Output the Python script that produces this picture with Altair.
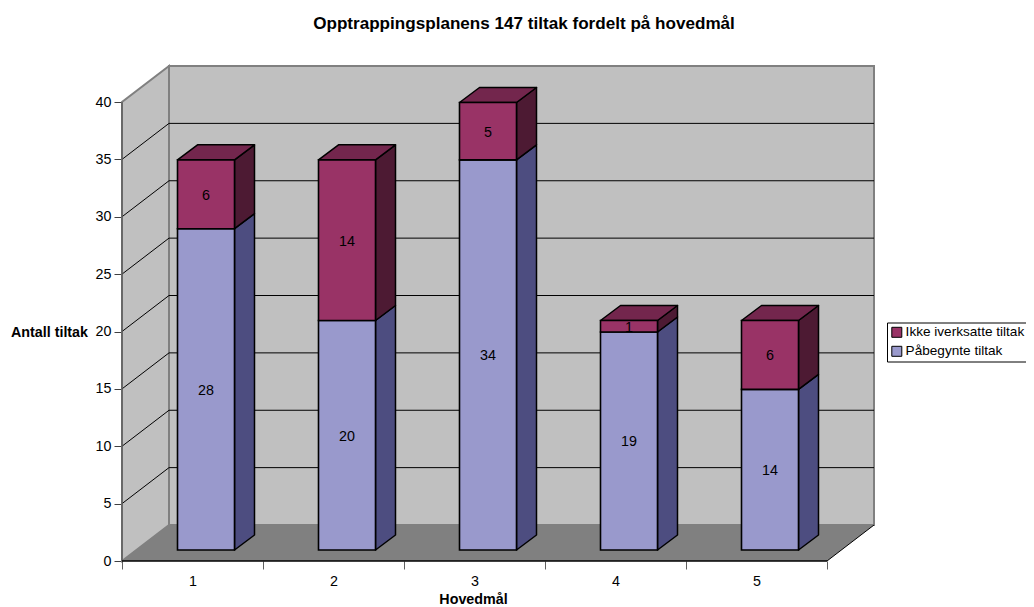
import altair as alt
import pandas as pd

categories = [1, 2, 3, 4, 5]
started = [28, 20, 34, 19, 14]
not_started = [6, 14, 5, 1, 6]
series_names = ["Ikke iverksatte tiltak", "Påbegynte tiltak"]
y_ticks = [0, 5, 10, 15, 20, 25, 30, 35, 40]
x_ticks = [0, 1, 2, 3, 4, 5]

PX = 141.0      # pixels per category
PY = 11.475     # pixels per y unit
W, H = 904, 494
DX, DY = 47 / PX, 36 / PY        # depth of the box
BL, BW = 55.5 / PX, 57 / PX      # bar left inset / bar width
BO = 11 / PY                     # bar front lift
BDX, BDY = 20 / PX, 15 / PY      # bar depth

FONT = "Liberation Sans"
xs = alt.Scale(domain=[0, W / PX], nice=False, zero=False)
ys = alt.Scale(domain=[0, H / PY], nice=False, zero=False)

x_axis = alt.Axis(
    values=x_ticks, domain=False, grid=False, tickColor="#606060", tickSize=8, tickWidth=1,
    labelExpr="datum.value < 5 ? datum.value + 1 : ''", labelOffset=70.5, labelPadding=5,
    labelFlush=False, labelOverlap=False, labelBound=False,
    labelFont=FONT, labelFontSize=14.3, labelColor="#000000", labelAngle=0,
    title="Hovedmål", titleFont=FONT, titleFontSize=14.3, titleFontWeight="bold",
    titleColor="#000000", titleX=351, titleY=38, titleBaseline="middle", titleAlign="center",
)
y_axis = alt.Axis(
    values=y_ticks, domain=False, grid=False, tickColor="#404040", tickSize=8, tickWidth=1,
    labelFont=FONT, labelFontSize=14.3, labelColor="#000000", labelPadding=3,
    labelFlush=False, labelOverlap=False, labelBound=False,
    title="Antall tiltak", titleFont=FONT, titleFontSize=14.3, titleFontWeight="bold",
    titleColor="#000000", titleAngle=0, titleX=-73, titleY=265,
    titleAlign="center", titleBaseline="middle",
)
X = lambda f, **k: alt.X(f, type="quantitative", scale=xs, axis=x_axis, **k)
Y = lambda f, **k: alt.Y(f, type="quantitative", scale=ys, axis=y_axis, **k)

# walls and floor
back = alt.Chart(pd.DataFrame([{"x": DX, "x2": 5 + DX, "y": DY, "y2": 40 + DY}])).mark_rect(
    fill="#C0C0C0", stroke="#808080", strokeWidth=2
).encode(X("x"), x2="x2", y=Y("y"), y2="y2")

left = alt.Chart(pd.DataFrame([
    {"x": 0, "y": 0, "y2": 40}, {"x": DX, "y": DY, "y2": 40 + DY}
])).mark_area(fill="#C0C0C0", stroke="#808080", strokeWidth=2, opacity=1).encode(
    X("x"), Y("y"), y2="y2"
)

floor = alt.Chart(pd.DataFrame([
    {"y": 0, "x": 0, "x2": 5}, {"y": DY, "x": DX, "x2": 5 + DX}
])).mark_area(fill="#808080", orient="horizontal", opacity=1).encode(
    y=Y("y"), x=X("x"), x2="x2"
)

floor_edge = alt.Chart(pd.DataFrame([
    {"x": 5, "y": 0}, {"x": 5 + DX, "y": DY}
])).mark_line(color="#000000", strokeWidth=1).encode(X("x"), Y("y"))

# grid lines on left wall and back wall
grid_rows = []
for v in y_ticks[1:-1]:
    grid_rows += [
        {"v": v, "o": 0, "x": 0, "y": v},
        {"v": v, "o": 1, "x": DX, "y": v + DY},
        {"v": v, "o": 2, "x": 5 + DX, "y": v + DY},
    ]
grid = alt.Chart(pd.DataFrame(grid_rows)).mark_line(color="#000000", strokeWidth=1).encode(
    X("x"), Y("y"), detail="v:N", order="o:Q"
)

# bars
fronts, labels, sides = [], [], {0: [], 1: []}
tops = []
for i, c in enumerate(categories):
    x0 = c - 1 + BL
    x1 = x0 + BW
    base = BO
    for s, val in enumerate([started[i], not_started[i]]):
        name = series_names[1 - s]
        fronts.append({"x": x0, "x2": x1, "y": base, "y2": base + val, "serie": name})
        labels.append({"x": (x0 + x1) / 2, "y": base + val / 2, "t": val})
        sides[s] += [
            {"k": f"{c}", "x": x1, "y": base, "y2": base + val},
            {"k": f"{c}", "x": x1 + BDX, "y": base + BDY, "y2": base + val + BDY},
        ]
        base += val
    tops += [
        {"k": f"{c}", "y": base, "x": x0, "x2": x1},
        {"k": f"{c}", "y": base + BDY, "x": x0 + BDX, "x2": x1 + BDX},
    ]

side_blue = alt.Chart(pd.DataFrame(sides[0])).mark_area(
    fill="#4D4D80", stroke="#000000", strokeWidth=1.5, strokeJoin="round", opacity=1
).encode(X("x"), Y("y"), y2="y2", detail="k:N")
side_red = alt.Chart(pd.DataFrame(sides[1])).mark_area(
    fill="#4D1A33", stroke="#000000", strokeWidth=1.5, strokeJoin="round", opacity=1
).encode(X("x"), Y("y"), y2="y2", detail="k:N")
top = alt.Chart(pd.DataFrame(tops)).mark_area(
    fill="#73264D", stroke="#000000", strokeWidth=1.5, strokeJoin="round", orient="horizontal", opacity=1
).encode(y=Y("y"), x=X("x"), x2="x2", detail="k:N")

front = alt.Chart(pd.DataFrame(fronts)).mark_rect(stroke="#000000", strokeWidth=1.6).encode(
    X("x"), x2="x2", y=Y("y"), y2="y2",
    color=alt.Color(
        "serie:N",
        scale=alt.Scale(domain=series_names, range=["#993366", "#9999CC"]),
        sort=series_names,
        legend=alt.Legend(
            title=None, orient="none", legendX=765, legendY=255.5,
            fillColor="#FFFFFF", strokeColor="#000000", padding=3,
            labelFont=FONT, labelFontSize=13.6, labelColor="#000000",
            symbolType="square", symbolSize=100, symbolStrokeColor="#000000",
            symbolStrokeWidth=1, rowPadding=4, labelOffset=2,
            labelLimit=300, cornerRadius=0,
        ),
    ),
)

text = alt.Chart(pd.DataFrame(labels)).mark_text(
    font=FONT, fontSize=14.3, color="#000000", baseline="middle", align="center", dy=1.5
).encode(X("x"), Y("y"), text="t:Q")

x_line = alt.Chart(pd.DataFrame([{"x": 0, "x2": 5, "y": 0}])).mark_rule(
    color="#000000", strokeWidth=1.5
).encode(X("x"), x2="x2", y=Y("y"))
y_line = alt.Chart(pd.DataFrame([{"x": 0, "y": 0, "y2": 40}])).mark_rule(
    color="#606060", strokeWidth=1.5
).encode(X("x"), y=Y("y"), y2="y2")

chart = alt.layer(
    back, left, floor, floor_edge, grid, side_blue, side_red, top, front, text, y_line, x_line
).properties(
    width=W, height=H,
    padding={"left": 114, "top": 59, "right": 0, "bottom": 46},
    autosize=alt.AutoSizeParams(type="none"),
    title=alt.TitleParams(
        "Opptrappingsplanens 147 tiltak fordelt på hovedmål",
        font=FONT, fontSize=17.1, fontWeight="bold", color="#000000",
        anchor="middle", dx=-50, offset=30,
    ),
).configure_view(stroke=None)

chart.save("out.html", embed_options={"renderer": "svg", "actions": False})
